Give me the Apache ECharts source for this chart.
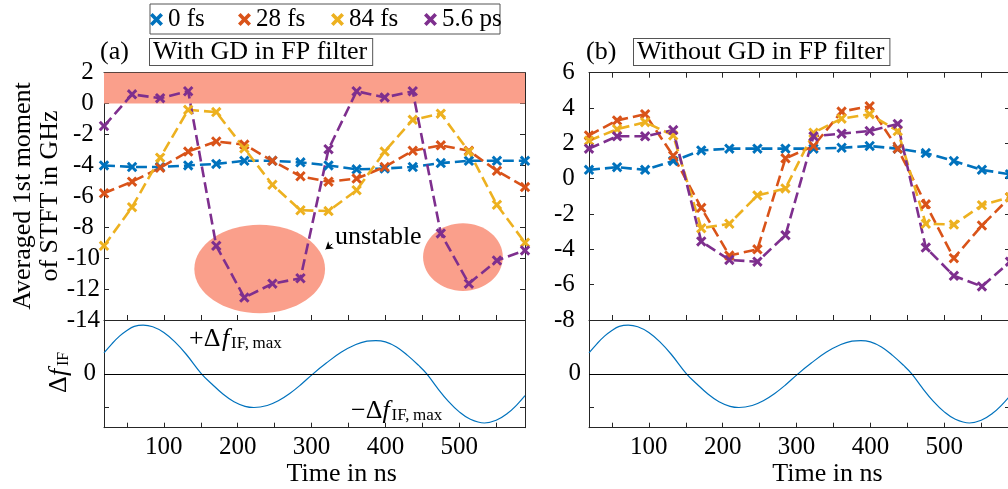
<!DOCTYPE html>
<html><head><meta charset="utf-8">
<script src="https://cdn.jsdelivr.net/npm/echarts@6/dist/echarts.min.js"></script>
<style>html,body{margin:0;padding:0;background:#fff}#c{width:1008px;height:489px}</style>
</head><body><div id="c"></div>
<script>
// ---------------- data ----------------
const seriesNames = ['0 fs', '28 fs', '84 fs', '5.6 ps'];
const timesNs = [19, 57, 95, 133, 171, 209, 247, 285, 323, 361, 399, 437, 475, 513, 551, 589];

// (a) With GD in FP filter
const withGD_0fs   = [-4.0, -4.1, -4.1, -4.0, -3.9, -3.7, -3.7, -3.8, -4.0, -4.25, -4.2, -4.1, -3.85, -3.7, -3.7, -3.7];
const withGD_28fs  = [-5.8, -5.05, -4.15, -3.1, -2.45, -2.65, -3.7, -4.7, -5.05, -4.85, -4.1, -3.05, -2.7, -3.05, -4.35, -5.4];
const withGD_84fs  = [-9.2, -6.7, -3.5, -0.4, -0.55, -2.9, -5.25, -6.9, -6.95, -5.6, -3.1, -1.05, -0.65, -3.1, -6.55, -9.0];
const withGD_56ps  = [-1.45, 0.6, 0.35, 0.8, -9.2, -12.55, -11.65, -11.3, -2.95, 0.8, 0.4, 0.8, -8.4, -11.65, -10.15, -9.5];

// (b) Without GD in FP filter
const withoutGD_0fs  = [0.5, 0.65, 0.5, 1.0, 1.6, 1.7, 1.7, 1.7, 1.7, 1.75, 1.85, 1.7, 1.45, 1.0, 0.5, 0.25];
const withoutGD_28fs = [2.45, 3.3, 3.65, 1.3, -1.65, -4.35, -4.0, 1.15, 1.85, 3.8, 4.1, 1.7, -1.45, -4.5, -2.65, -1.05];
const withoutGD_84fs = [2.15, 2.8, 3.2, 2.45, -2.8, -2.55, -0.95, -0.55, 2.6, 3.4, 3.65, 2.7, -2.55, -2.6, -1.5, -1.05];
const withoutGD_56ps = [1.7, 2.4, 2.4, 2.75, -3.55, -4.6, -4.7, -3.2, 2.4, 2.55, 2.7, 3.1, -3.9, -5.5, -6.1, -4.7];

// Delta f_IF (normalised modulation)
const sineTimes  = [19, 30, 40, 50, 60, 72, 85, 100, 115, 130, 151, 165, 180, 195, 210, 222, 240, 255, 270, 285, 302, 320, 340, 360, 375, 387, 400, 415, 430, 445, 456, 470, 485, 500, 515, 534, 550, 565, 578, 589];
const sineValues = [0.62, 0.9, 1.12, 1.29, 1.41, 1.45, 1.40, 1.23, 0.95, 0.59, 0, -0.30, -0.60, -0.83, -0.965, -1.0, -0.94, -0.80, -0.59, -0.33, 0, 0.32, 0.64, 0.87, 0.97, 0.99, 0.95, 0.80, 0.55, 0.25, 0, -0.41, -0.81, -1.13, -1.35, -1.46, -1.38, -1.18, -0.92, -0.65];

// axes / annotations
const xRange = [19, 589];
const xTickValues = [50, 100, 150, 200, 250, 300, 350, 400, 450, 500, 550];
const xLabelValues = [100, 200, 300, 400, 500];
const leftYRange = [-14, 2];
const rightYRange = [-8, 6];
const yInterval = 2;
const lowerYRange = [-1.6, 1.6];
const lowerTickValues = [-1, 0];
const lowerLabelValues = [0];
const stableBand = [0, 2];
// [centre time, centre value, half-width (ns), half-height (GHz)]
const unstableRegions = [[229.8, -10.7, 88.5, 2.86], [505, -9.93, 54, 2.19]];
const unstableArrow = [[328, -9.08], [319, -9.42]];

// ---------------- style ----------------
const FONT = '"Liberation Serif", "Times New Roman", serif';
const colors = ['#0072BD', '#D95319', '#EDB120', '#7E2F8E'];
const pink = '#FA9F8B';
const axisColor = '#262626';
const xPath = 'path://M0,2 L2,0 L5,3 L8,0 L10,2 L7,5 L10,8 L8,10 L5,7 L2,10 L0,8 L3,5 Z';

const zip = (xs, ys) => xs.map((x, i) => [x, ys[i]]);
const padLabel = v => { const s = String(v); return s.length < 3 ? s + ' ' : s; };

const grids = [
  {left: 104, top: 72.7, width: 421, height: 247.3},
  {left: 104, top: 320, width: 421, height: 107.7},
  {left: 589, top: 72.7, width: 421, height: 247.3},
  {left: 589, top: 320, width: 421, height: 107.7}
].map(g => Object.assign(g, {outerBoundsMode: 'none', containLabel: false}));

function xAxisCfg(gridIndex, position, withLabels) {
  return {
    type: 'value', gridIndex, position, min: xRange[0], max: xRange[1],
    axisLine: {show: true, onZero: false, lineStyle: {color: axisColor, width: 1}},
    axisTick: {show: true, inside: true, length: 5, customValues: xTickValues, lineStyle: {color: axisColor}},
    axisLabel: withLabels ? {show: true, customValues: xLabelValues, margin: 7, color: '#000', fontFamily: FONT, fontSize: 25} : {show: false},
    splitLine: {show: false}
  };
}
function yAxisCfg(gridIndex, position, range, withLabels, margin) {
  return {
    type: 'value', gridIndex, position, min: range[0], max: range[1], interval: yInterval,
    axisLine: {show: true, onZero: false, lineStyle: {color: axisColor, width: 1}},
    axisTick: {show: true, inside: true, length: 5, lineStyle: {color: axisColor}},
    axisLabel: withLabels ? {show: true, margin, color: '#000', fontFamily: FONT, fontSize: 25, formatter: padLabel} : {show: false},
    splitLine: {show: false}
  };
}
function lowerYCfg(gridIndex, position, withLabels) {
  return {
    type: 'value', gridIndex, position, min: lowerYRange[0], max: lowerYRange[1],
    axisLine: {show: true, onZero: false, lineStyle: {color: axisColor, width: 1}},
    axisTick: {show: true, inside: true, length: 5, customValues: lowerTickValues, lineStyle: {color: axisColor}},
    axisLabel: withLabels ? {show: true, customValues: lowerLabelValues, margin: 8, color: '#000', fontFamily: FONT, fontSize: 25} : {show: false},
    splitLine: {show: false}
  };
}

const xAxes = [
  xAxisCfg(0, 'bottom', false), xAxisCfg(0, 'top', false),
  xAxisCfg(1, 'bottom', true),
  xAxisCfg(2, 'bottom', false), xAxisCfg(2, 'top', false),
  xAxisCfg(3, 'bottom', true)
];
const yAxes = [
  yAxisCfg(0, 'left', leftYRange, true, 4), yAxisCfg(0, 'right', leftYRange, false),
  lowerYCfg(1, 'left', true), lowerYCfg(1, 'right', false),
  yAxisCfg(2, 'left', rightYRange, true, 8), yAxisCfg(2, 'right', rightYRange, false),
  lowerYCfg(3, 'left', true), lowerYCfg(3, 'right', false)
];

function dataSeries(name, idx, values, xi, yi) {
  return {
    name, type: 'line', xAxisIndex: xi, yAxisIndex: yi, z: 3,
    data: zip(timesNs, values),
    symbol: xPath, symbolSize: 10.5, showSymbol: true,
    itemStyle: {color: colors[idx]},
    lineStyle: {color: colors[idx], width: 2.6, type: [11, 5]},
    emphasis: {disabled: true}, animation: false
  };
}

function ellipseRender(params, api) {
  const c = api.coord([api.value(0), api.value(1)]);
  const s = api.size([api.value(2), api.value(3)]);
  return {type: 'ellipse', shape: {cx: c[0], cy: c[1], rx: s[0], ry: s[1]}, style: {fill: pink}};
}

function sineSeries(xi, yi) {
  return {
    name: 'dfIF', type: 'line', xAxisIndex: xi, yAxisIndex: yi, z: 3,
    data: zip(sineTimes, sineValues), smooth: 0.4, symbol: 'none',
    lineStyle: {color: '#0072BD', width: 1.2},
    markLine: {silent: true, symbol: 'none', label: {show: false},
      lineStyle: {color: '#000', width: 1, type: 'solid'}, data: [{yAxis: 0}], animation: false},
    animation: false
  };
}

const withGD = [withGD_0fs, withGD_28fs, withGD_84fs, withGD_56ps];
const withoutGD = [withoutGD_0fs, withoutGD_28fs, withoutGD_84fs, withoutGD_56ps];

const series = [
  {
    name: 'unstable', type: 'custom', xAxisIndex: 0, yAxisIndex: 0, z: 1,
    renderItem: ellipseRender, data: unstableRegions, silent: true, animation: false,
    markArea: {silent: true, itemStyle: {color: pink, opacity: 1},
      data: [[{yAxis: stableBand[0]}, {yAxis: stableBand[1]}]]},
    markLine: {silent: true, symbol: ['none', 'arrow'], symbolSize: 7, label: {show: false},
      lineStyle: {color: '#000', width: 1, type: 'solid'},
      data: [[{coord: unstableArrow[0]}, {coord: unstableArrow[1]}]], animation: false}
  },
  ...withGD.map((v, i) => dataSeries(seriesNames[i], i, v, 0, 0)),
  ...withoutGD.map((v, i) => dataSeries(seriesNames[i], i, v, 3, 4)),
  sineSeries(2, 2),
  sineSeries(5, 6)
];

const legendLefts = [150, 238, 331, 424];
const legends = seriesNames.map((n, i) => ({
  data: [{name: n, icon: xPath}], left: legendLefts[i], top: 7, padding: 0,
  itemWidth: 13, itemHeight: 13, selectedMode: false, z: 5,
  textStyle: {color: '#000', fontFamily: FONT, fontSize: 25}
}));

const txt = (x, y, text, extra) => ({type: 'text', x, y, silent: true,
  style: Object.assign({text, font: '26px ' + FONT, fill: '#000', verticalAlign: 'middle'}, extra || {})});
const boxed = {padding: [1, 5, 1, 3], lineHeight: 24, borderColor: '#555', borderWidth: 1, backgroundColor: '#fff'};

const yTitle = txt(36.5, 196, 'Averaged 1st moment\nof STFT in GHz', {align: 'center', lineHeight: 27});
yTitle.rotation = Math.PI / 2;

const graphic = [
  {type: 'rect', silent: true, z: 0, shape: {x: 150, y: 4, width: 350, height: 30}, style: {fill: '#fff', stroke: '#555', lineWidth: 1}},
  txt(100, 52, '(a)'),
  txt(150, 52, 'With GD in FP filter', boxed),
  txt(586, 52, '(b)'),
  txt(634, 52, 'Without GD in FP filter', boxed),
  yTitle,
  {type: 'group', x: 59, y: 393, rotation: Math.PI / 2, silent: true, children: [
    txt(0, 0, 'Δ'), txt(17, 0, 'f', {font: 'italic 26px ' + FONT}), txt(27, 4.6, 'IF', {font: '16px ' + FONT})
  ]},
  txt(189, 339.5, '+Δ'), txt(222, 339.5, 'f', {font: 'italic 26px ' + FONT}), txt(231, 343.5, 'IF,\u2009max', {font: '17px ' + FONT}),
  txt(351, 411.2, '\u2212Δ'), txt(382.5, 411.2, 'f', {font: 'italic 26px ' + FONT}), txt(391.5, 415.7, 'IF,\u2009max', {font: '17px ' + FONT}),
  txt(335, 237.2, 'unstable'),
  txt(341.7, 474.5, 'Time in ns', {align: 'center'}),
  txt(827.5, 474.5, 'Time in ns', {align: 'center'})
];

const chart = echarts.init(document.getElementById('c'), null, {renderer: 'canvas'});
chart.setOption({
  animation: false,
  backgroundColor: '#fff',
  grid: grids,
  xAxis: xAxes,
  yAxis: yAxes,
  legend: legends,
  series,
  graphic
});
</script></body></html>
